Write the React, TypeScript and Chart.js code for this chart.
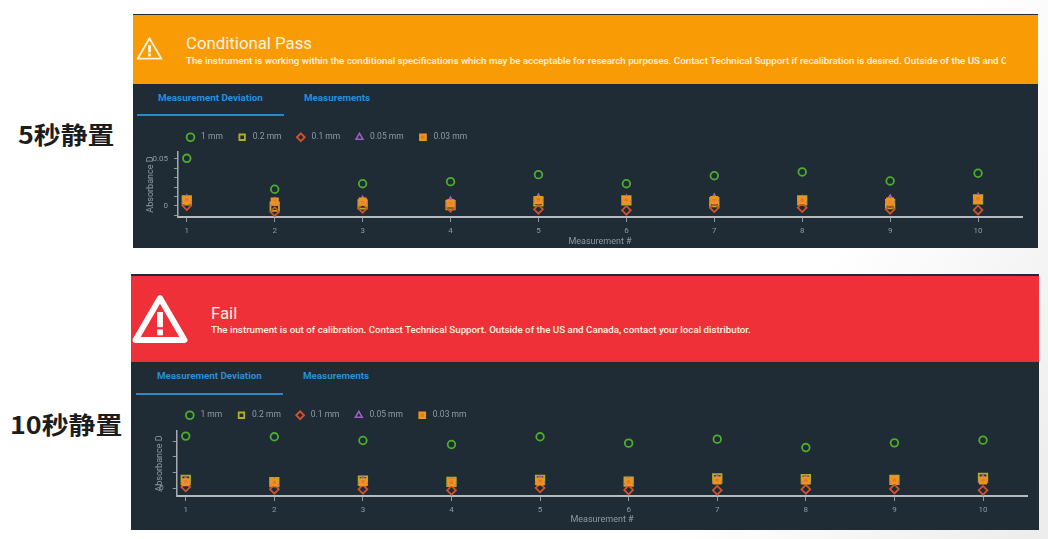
import { useEffect, useRef } from 'react';
import { Chart, registerables } from 'chart.js';

Chart.register(...registerables);

const FONT = 'Roboto, "Open Sans", sans-serif';
const CJK = '"Noto Sans CJK SC", sans-serif';

const measurements = [1, 2, 3, 4, 5, 6, 7, 8, 9, 10];
const seriesNames = ['1 mm', '0.2 mm', '0.1 mm', '0.05 mm', '0.03 mm'];

// 5 s rest
const rest5_1mm = [0.0507, 0.0178, 0.0237, 0.0259, 0.0333, 0.0237, 0.0322, 0.0362, 0.0266, 0.0348];
const rest5_02mm = [0.006, -0.0007, 0.0018, 0.001, 0.005, 0.006, 0.004, 0.006, 0.002, 0.007];
const rest5_01mm = [0.0004, -0.006, -0.0025, -0.0014, -0.0035, -0.0046, -0.0018, -0.0018, -0.0035, -0.0043];
const rest5_005mm = [0.0068, 0.0036, 0.0053, 0.0046, 0.0078, 0.0068, 0.0078, 0.0059, 0.0068, 0.0085];
const rest5_003mm = [0.0064, 0.0046, 0.0046, 0.0028, 0.0064, 0.0064, 0.0064, 0.0064, 0.0046, 0.0074];
const rest5Ticks = [-0.01, 0, 0.01, 0.02, 0.03, 0.04, 0.05];

// 10 s rest
const rest10_1mm = [0.1667, 0.1645, 0.1527, 0.1398, 0.1645, 0.1441, 0.157, 0.1301, 0.1451, 0.1537];
const rest10_02mm = [0.0269, 0.0194, 0.0247, 0.0204, 0.0269, 0.0215, 0.0312, 0.029, 0.0269, 0.0333];
const rest10_01mm = [0.0043, -0.0032, -0.0032, -0.0065, 0.0011, -0.0054, -0.0065, -0.0032, -0.0022, -0.0065];
const rest10_005mm = [0.0236, 0.0172, 0.0236, 0.0172, 0.0258, 0.0204, 0.0279, 0.0258, 0.0236, 0.0279];
const rest10_003mm = [0.0194, 0.0194, 0.0194, 0.0194, 0.0215, 0.0204, 0.0247, 0.0247, 0.0269, 0.0247];
const rest10Ticks = [0, 0.05, 0.1, 0.15];

const styles = [
  { color: '#4cae2b', pointStyle: 'circle', radius: 3.8, width: 1.8, order: 5, fill: 'transparent' },
  { color: '#b2b022', pointStyle: 'rect', radius: 6, width: 1.8, order: 4, fill: 'transparent' },
  { color: '#d4512b', pointStyle: 'rectRot', radius: 4.4, width: 1.8, order: 3, fill: 'transparent' },
  { color: '#a05cc8', pointStyle: 'triangle', radius: 4.6, width: 1.6, order: 2, fill: 'transparent' },
  { color: '#f5911e', pointStyle: 'rect', radius: 4.2, width: 2.2, order: 1, fill: 'rgba(245,145,30,0.85)' },
];

interface PanelChartProps {
  series: number[][];
  yTicks: number[];
  yLabel: string;
  yMin: number;
  yMax: number;
  labelled: number[];
  left: number;
  top: number;
  width: number;
  height: number;
  axisLeft: number;
  axisRight: number;
  xMin: number;
  xBand: number;
  xTitleBottom: number;
  legendDx: number;
  legendDy: number;
  tickPad: number;
  titlePad: number;
}

function PanelChart(props: PanelChartProps) {
  const canvasRef = useRef<HTMLCanvasElement>(null);

  useEffect(() => {
    if (!canvasRef.current) return;
    let wrapped = false;

    const chart = new Chart(canvasRef.current, {
      type: 'scatter',
      data: {
        datasets: props.series.map((values, i) => ({
          label: seriesNames[i],
          data: measurements.map((x, j) => ({ x, y: values[j] })),
          borderColor: styles[i].color,
          backgroundColor: styles[i].fill,
          pointStyle: styles[i].pointStyle,
          pointRadius: styles[i].radius,
          pointBorderWidth: styles[i].width,
          order: styles[i].order,
        })),
      },
      options: {
        animation: false,
        responsive: false,
        layout: { padding: { right: props.width - (props.axisRight - props.left) } },
        plugins: {
          tooltip: { enabled: false },
          legend: {
            align: 'start',
            labels: {
              usePointStyle: true,
              boxHeight: 5.5,
              padding: 15,
              color: '#8f9ba3',
              font: { family: FONT, size: 8.5 },
              // legend follows dataset order, not draw order; text sits further from the marker
              sort: (a, b) => a.datasetIndex - b.datasetIndex,
              generateLabels: (c) =>
                Chart.defaults.plugins.legend.labels
                  .generateLabels(c)
                  .map((item) => ({ ...item, text: '\u00a0' + item.text })),
            },
          },
        },
        scales: {
          x: {
            type: 'linear',
            min: props.xMin,
            max: 10.5,
            afterBuildTicks: (axis) => {
              axis.ticks = measurements.map((value) => ({ value }));
            },
            afterFit: (axis) => {
              axis.height = props.xBand;
            },
            border: { color: '#b4babe', width: 2 },
            grid: { drawOnChartArea: false, tickLength: 5, color: '#8d979e' },
            ticks: {
              color: '#8f9ba3',
              padding: 4,
              autoSkip: false,
              maxRotation: 0,
              font: { family: FONT, size: 8 },
              callback: (v) => String(v),
            },
            title: {
              display: true,
              text: 'Measurement #',
              color: '#8f9ba3',
              padding: { top: 0, bottom: props.xTitleBottom },
              font: { family: FONT, size: 9 },
            },
          },
          y: {
            min: props.yMin,
            max: props.yMax,
            afterBuildTicks: (axis) => {
              axis.ticks = props.yTicks.map((value) => ({ value }));
            },
            afterFit: (axis) => {
              axis.width = props.axisLeft - props.left;
            },
            border: { color: '#a4abb0', width: 1.5 },
            grid: { drawOnChartArea: false, tickLength: 4, color: '#8d979e' },
            ticks: {
              color: '#8f9ba3',
              padding: props.tickPad,
              autoSkip: false,
              font: { family: FONT, size: 8 },
              callback: (v) => (props.labelled.includes(Number(v)) ? String(v) : ''),
            },
            title: {
              display: true,
              text: props.yLabel,
              color: '#8f9ba3',
              padding: { top: props.titlePad, bottom: 0 },
              font: { family: FONT, size: 9 },
            },
          },
        },
      },
      plugins: [
        {
          // the legend sits over the y axis gutter and close above the plot
          id: 'legendPlacement',
          beforeLayout: (c: any) => {
            if (wrapped || !c.legend) return;
            wrapped = true;
            const fit = c.legend.fit;
            c.legend.fit = function () {
              fit.call(this);
              this.height = 24;
            };
          },
          afterLayout: (c: any) => {
            c.legend.left += props.legendDx;
            c.legend.top += props.legendDy;
          },
        },
      ],
    });

    return () => chart.destroy();
  }, []);

  return (
    <canvas
      ref={canvasRef}
      width={props.width}
      height={props.height}
      style={{ position: 'absolute', left: props.left, top: props.top, width: props.width, height: props.height }}
    />
  );
}

function Warning({ left, top, size, stroke, color }: { left: number; top: number; size: number; stroke: number; color: string }) {
  return (
    <svg width={size} height={size} viewBox="0 0 48 48" style={{ position: 'absolute', left, top }}>
      <path d="M24 6 L45 42 L3 42 Z" fill="none" stroke={color} strokeWidth={stroke} strokeLinejoin="round" />
      <rect x="21.5" y="18" width="5" height="13" fill={color} />
      <rect x="21.5" y="33" width="5" height="5" fill={color} />
    </svg>
  );
}

function Tabs({ left, top, lineTop }: { left: number; top: number; lineTop: number }) {
  const tab = {
    position: 'absolute' as const,
    top,
    color: '#2a8fd6',
    fontFamily: FONT,
    fontSize: 9.8,
    fontWeight: 700,
    lineHeight: '10px',
    whiteSpace: 'nowrap' as const,
  };
  return (
    <>
      <div style={{ ...tab, left: left + 25 }}>Measurement Deviation</div>
      <div style={{ ...tab, left: left + 171 }}>Measurements</div>
      <div style={{ position: 'absolute', left: left + 4, top: lineTop, width: 147, height: 2, background: '#2b88c6' }} />
    </>
  );
}

function SideLabel({ text, left, top }: { text: string; left: number; top: number }) {
  return (
    <div
      style={{
        position: 'absolute',
        left,
        top,
        fontFamily: CJK,
        fontSize: 24,
        fontWeight: 700,
        lineHeight: '30px',
        color: '#1d1d1d',
        whiteSpace: 'nowrap',
        transform: 'scaleX(1.12)',
        transformOrigin: 'left center',
      }}
    >
      {text}
    </div>
  );
}

export default function App() {
  const bannerText = {
    position: 'absolute' as const,
    fontFamily: FONT,
    color: '#fff3e2',
    whiteSpace: 'nowrap' as const,
    overflow: 'hidden',
  };

  return (
    <div
      style={{
        position: 'absolute',
        left: 0,
        top: 0,
        width: 1048,
        height: 539,
        overflow: 'hidden',
        background: 'linear-gradient(120deg, #ffffff 72%, #ececec 100%)',
        filter: 'blur(0.45px)',
      }}
    >
      <SideLabel text="5秒静置" left={18} top={119} />
      <SideLabel text="10秒静置" left={10} top={409} />

      <div style={{ position: 'absolute', left: 133, top: 14, width: 905, height: 234, background: '#1f2c36' }} />
      <div style={{ position: 'absolute', left: 133, top: 15, width: 905, height: 69, background: '#f89b05' }} />
      <Warning left={136} top={35} size={27} stroke={3.5} color="#fff4e0" />
      <div style={{ ...bannerText, left: 186, top: 33, fontSize: 16.8, lineHeight: '20px' }}>Conditional Pass</div>
      <div style={{ ...bannerText, left: 186, top: 55, width: 820, fontSize: 9.74, fontWeight: 500, lineHeight: '11px' }}>
        The instrument is working within the conditional specifications which may be acceptable for research purposes.
        Contact Technical Support if recalibration is desired. Outside of the US and Canada, contact your local distributor.
      </div>
      <Tabs left={133} top={93} lineTop={114} />
      <PanelChart
        series={[rest5_1mm, rest5_02mm, rest5_01mm, rest5_005mm, rest5_003mm]}
        yTicks={rest5Ticks}
        yLabel="Absorbance D"
        yMin={-0.0117}
        yMax={0.0574}
        labelled={[0, 0.05]}
        left={133}
        top={128}
        width={904}
        height={121}
        axisLeft={178}
        axisRight={1022}
        xMin={0.9}
        xBand={32}
        xTitleBottom={2}
        legendDx={38.25}
        legendDy={-10}
        tickPad={6}
        titlePad={12}
      />

      <div style={{ position: 'absolute', left: 131, top: 274, width: 908, height: 256, background: '#1f2c36' }} />
      <div style={{ position: 'absolute', left: 131, top: 276, width: 908, height: 86, background: '#ef3038' }} />
      <Warning left={132} top={291} size={56} stroke={5} color="#ffffff" />
      <div style={{ ...bannerText, left: 211, top: 303, fontSize: 16.8, lineHeight: '20px' }}>Fail</div>
      <div style={{ ...bannerText, left: 211, top: 324, fontSize: 9.74, fontWeight: 500, lineHeight: '11px' }}>
        The instrument is out of calibration. Contact Technical Support. Outside of the US and Canada, contact your local distributor.
      </div>
      <Tabs left={132} top={371} lineTop={393} />
      <PanelChart
        series={[rest10_1mm, rest10_02mm, rest10_01mm, rest10_005mm, rest10_003mm]}
        yTicks={rest10Ticks}
        yLabel="Absorbance D"
        yMin={-0.0247}
        yMax={0.183}
        labelled={[0]}
        left={131}
        top={407}
        width={908}
        height={123}
        axisLeft={176.7}
        axisRight={1027.3}
        xMin={0.898}
        xBand={34}
        xTitleBottom={5}
        legendDx={39.55}
        legendDy={-11}
        tickPad={9}
        titlePad={23}
      />
    </div>
  );
}
